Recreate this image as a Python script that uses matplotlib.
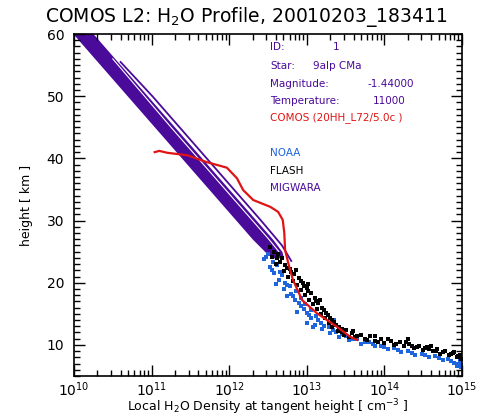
import numpy as np
import matplotlib
matplotlib.use("Agg")
import matplotlib.pyplot as plt
from matplotlib.ticker import MultipleLocator, LogLocator, NullFormatter

# MIGWARA band (log10 density vs height)
band_h = [61, 55, 50, 45, 40, 35, 30, 27, 25, 24]
band_lo = [9.92, 10.34, 10.69, 11.04, 11.39, 11.74, 12.09, 12.30, 12.46, 12.56]
band_hi = [10.18, 10.60, 10.95, 11.30, 11.65, 12.00, 12.35, 12.56, 12.68, 12.70]
gap_h = [56, 45, 35, 27, 25]
gap_log = [10.50, 11.25, 11.95, 12.51, 12.64]
outer_h = [55.5, 50, 45, 40, 35, 30, 26, 23.5]
outer_log = [10.60, 11.01, 11.36, 11.71, 12.06, 12.41, 12.68, 12.80]

# COMOS retrieval
comos_log = [11.04, 11.10, 11.20, 11.46, 11.71, 11.97, 12.10, 12.18, 12.31, 12.53,
             12.63, 12.69, 12.71, 12.72, 12.76, 12.82, 12.94, 13.13, 13.39, 13.56, 13.65]
comos_h = [41.0, 41.2, 40.9, 40.5, 39.4, 38.5, 36.8, 34.9, 33.3, 32.2,
           31.4, 30.1, 28.0, 25.3, 23.2, 20.5, 17.2, 15.1, 12.9, 11.3, 10.8]

# FLASH points
flash_log = [12.52, 12.58, 12.55, 12.63, 12.66, 12.60, 12.72, 12.70, 12.78, 12.76,
             12.84, 12.82, 12.90, 12.88, 12.95, 12.93, 13.00, 12.98, 13.05, 13.03,
             13.10, 13.08, 13.15, 13.13, 13.20, 13.18, 13.25, 13.23, 13.30, 13.28,
             13.35, 13.33, 13.42, 13.40, 13.50, 13.48, 13.58, 13.62, 13.70, 13.75,
             13.82, 13.88, 13.95, 14.00, 14.08, 14.12, 14.20, 14.25, 14.32, 14.38,
             14.45, 14.50, 14.55, 14.62, 14.68, 14.72, 14.78, 14.83, 14.88, 14.93,
             14.97, 13.60, 13.88, 14.30, 12.68, 12.86, 13.02, 13.17, 14.60, 14.90,
             13.45, 13.55, 13.65, 13.78, 13.92, 14.05, 14.15, 14.28, 14.35, 14.42,
             14.52, 14.58, 14.66, 14.75, 14.86, 14.95, 14.99, 12.62, 12.74, 12.80,
             12.92, 12.96, 13.02, 13.12, 13.22, 13.27, 13.32, 13.38, 13.45]
flash_h = [25.8, 25.0, 24.2, 24.6, 23.4, 23.0, 22.8, 21.9, 22.2, 21.0,
           21.4, 20.2, 20.8, 19.6, 19.9, 18.8, 19.2, 18.0, 18.4, 17.3,
           17.6, 16.5, 16.8, 15.8, 16.0, 15.0, 15.2, 14.3, 14.4, 13.6,
           13.7, 12.9, 12.8, 12.2, 12.4, 11.6, 11.9, 11.2, 11.6, 10.9,
           11.4, 10.6, 11.0, 10.3, 10.7, 10.0, 10.5, 9.8, 10.2, 9.5,
           9.9, 9.2, 9.7, 9.0, 9.4, 8.6, 9.1, 8.3, 8.7, 8.0,
           8.4, 12.3, 11.5, 10.9, 24.0, 22.0, 19.8, 17.2, 9.9, 8.9,
           12.0, 11.3, 11.5, 10.8, 10.5, 10.9, 10.2, 10.4, 9.9, 9.6,
           9.5, 9.3, 9.1, 8.8, 8.5, 8.2, 7.8, 24.0, 22.4, 21.8,
           20.2, 19.5, 18.6, 17.0, 15.6, 14.8, 14.0, 13.2, 12.6]

# NOAA points
noaa_log = [12.50, 12.45, 12.56, 12.52, 12.62, 12.58, 12.68, 12.64, 12.72, 12.70,
            12.78, 12.60, 12.80, 12.86, 12.85, 12.92, 12.92, 12.98, 12.88, 13.00,
            13.06, 13.05, 13.12, 13.00, 13.10, 13.18, 13.20, 13.28, 13.30, 13.38,
            13.42, 13.50, 13.55, 13.65, 13.70, 13.80, 13.88, 13.95, 14.05, 14.12,
            14.22, 14.30, 14.40, 14.48, 14.58, 14.65, 14.75, 14.82, 14.90, 14.97,
            14.99, 13.35, 12.74, 13.08,
            12.48, 12.55, 12.66, 12.74, 12.82, 12.90, 12.96, 13.03, 13.15, 13.22,
            13.34, 13.45, 13.60, 13.75, 13.85, 14.00, 14.17, 14.35, 14.52, 14.70,
            14.86, 14.95, 14.99, 14.93]
noaa_h = [24.6, 23.8, 23.4, 22.6, 22.8, 21.6, 21.2, 20.4, 20.0, 19.0,
          19.4, 19.8, 18.2, 18.6, 17.2, 17.5, 16.2, 16.6, 15.3, 15.2,
          15.6, 14.3, 14.6, 13.6, 13.2, 13.6, 12.6, 12.8, 11.9, 12.1,
          11.3, 11.5, 10.8, 10.9, 10.2, 10.4, 9.8, 9.9, 9.3, 9.5,
          8.9, 9.1, 8.4, 8.6, 8.0, 8.2, 7.6, 7.8, 7.1, 7.4,
          6.8, 14.0, 17.8, 12.9,
          24.2, 22.0, 21.8, 19.6, 17.8, 16.8, 15.8, 14.8, 14.0, 13.0,
          12.4, 11.8, 11.0, 10.5, 10.1, 9.6, 9.2, 8.7, 8.3, 7.9,
          7.4, 7.0, 6.4, 6.6]

info_labels = ["ID:", "Star:", "Magnitude:", "Temperature:"]
info_values = ["1", "9alp CMa", "-1.44000", "11000"]
comos_label = "COMOS (20HH_L72/5.0c )"
legend_names = ["NOAA", "FLASH", "MIGWARA"]

purple = "#4a0a9a"
red = "#e01414"
blue = "#1e64dc"

fig = plt.figure(figsize=(4.89, 4.18), dpi=100)
ax = fig.add_axes([74 / 489, 1 - 376 / 418, 388 / 489, 342 / 418])

p = lambda v: 10 ** np.array(v)

ax.fill_betweenx(band_h, p(band_lo), p(band_hi), color=purple, lw=0)
ax.plot(p(gap_log), gap_h, color="white", lw=0.8)
ax.plot(p(outer_log), outer_h, color=purple, lw=1.3)

ax.plot(p(noaa_log), noaa_h, "s", color=blue, ms=3, mew=0)
ax.plot(p(flash_log), flash_h, "s", color="black", ms=3, mew=0)
ax.plot(p(comos_log), comos_h, color=red, lw=1.6)

ax.set_xscale("log")
ax.set_xlim(1e10, 1e15)
ax.set_ylim(5, 60)
ax.xaxis.set_major_locator(LogLocator(base=10, numticks=10))
ax.xaxis.set_minor_locator(LogLocator(base=10, subs=np.arange(2, 10), numticks=20))
ax.xaxis.set_minor_formatter(NullFormatter())
ax.yaxis.set_major_locator(MultipleLocator(10))
ax.yaxis.set_minor_locator(MultipleLocator(1))
ax.tick_params(which="both", direction="in", top=True, right=True, width=1)
ax.tick_params(which="major", length=8, labelsize=10)
ax.tick_params(axis="x", which="major", pad=3)
ax.tick_params(axis="y", which="major", pad=7)
ax.tick_params(which="minor", length=4)
for s in ax.spines.values():
    s.set_linewidth(1.2)

fig.text(268 / 489, 1 - 407 / 418, "Local H$_2$O Density at tangent height [ cm$^{-3}$ ]",
         fontsize=9, ha="center", va="center")
ax.set_ylabel("height [ km ]", fontsize=9, labelpad=10)
fig.text(45 / 489, 1 - 17 / 418, "COMOS L2: H$_2$O Profile, 20010203_183411",
         fontsize=13.5, ha="left", va="center")

tx = 270 / 489
vx = [333 / 489, 313 / 489, 368 / 489, 373 / 489]
ys = [47, 66, 84, 101]
for lab, val, yy, xv in zip(info_labels, info_values, ys, vx):
    fig.text(tx, 1 - yy / 418, lab, fontsize=7.5, color=purple, va="center")
    fig.text(xv, 1 - yy / 418, val, fontsize=7.5, color=purple, va="center")
fig.text(tx, 1 - 118 / 418, comos_label, fontsize=7.5, color=red, va="center")

for name, col, yy in zip(legend_names, [blue, "black", purple], [153, 171, 188]):
    fig.text(tx, 1 - yy / 418, name, fontsize=7.5, color=col, va="center")

fig.savefig("out.png", dpi=100)
